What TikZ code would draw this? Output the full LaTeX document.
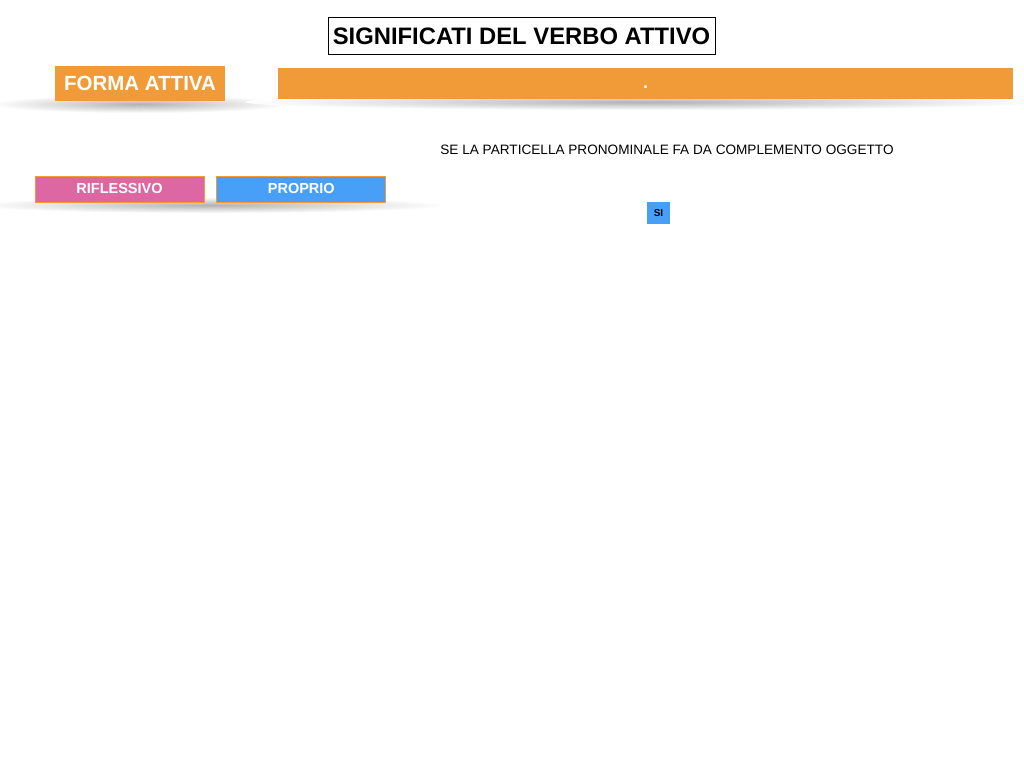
\documentclass[tikz,border=0pt]{standalone}
\usepackage{fontspec}
\setmainfont{Liberation Sans}
\usetikzlibrary{positioning}
\definecolor{arancio}{HTML}{F09A38}
\definecolor{rosa}{HTML}{DD67A3}
\definecolor{azzurro}{HTML}{489FF7}

\begin{document}
\begin{tikzpicture} [x=1pt,y=-1pt,
  ombra/.style={inner color=black!30, outer color=white},
  box/.style={inner sep=0pt, text=white, font=\bfseries},
  tag/.style={box, draw=arancio, line width=0.8pt, minimum width=169pt, minimum height=26pt, font=\fontsize{14.5}{16}\selectfont\bfseries}]
\useasboundingbox [fill=white] (0,0) rectangle (1024,768);

% shadows
\shade [ombra] (140,104) ellipse [x radius=150, y radius=9];
\shade [ombra] (645,102) ellipse [x radius=400, y radius=8];
\shade [ombra] (210,205) ellipse [x radius=235, y radius=8];


\node [draw, line width=0.8pt, inner sep=0pt, minimum width=387pt, minimum height=37pt,
  font=\fontsize{23.8}{26}\selectfont\bfseries] (titolo) at (521.5,36) {SIGNIFICATI DEL VERBO ATTIVO};


\node [box, fill=arancio, minimum width=170pt, minimum height=35pt,
  font=\fontsize{20.5}{22}\selectfont\bfseries] (forma) at (140,83.5) {FORMA ATTIVA};

\node [box, fill=arancio, minimum width=735pt, minimum height=31pt,
  font=\fontsize{18}{20}\selectfont\bfseries] (barra) at (645.5,83.5) {\smash{\raisebox{-5pt}{.}}};


% the second row
\node [font=\fontsize{13.6}{16}\selectfont] (frase) at (667,150) {SE LA PARTICELLA PRONOMINALE FA DA COMPLEMENTO OGGETTO};

\node [tag, fill=rosa] (riflessivo) at (119.5,189) {RIFLESSIVO};
\node [tag, fill=azzurro, right=12pt of riflessivo] (proprio) {PROPRIO};


\node [fill=azzurro, inner sep=0pt, minimum width=23pt, minimum height=22pt,
  font=\fontsize{10}{12}\selectfont\bfseries] (si) at (658.5,213) {SI};

%\draw [help lines, step=50] (0,0) grid (1024,768);
\end{tikzpicture}
\end{document}
